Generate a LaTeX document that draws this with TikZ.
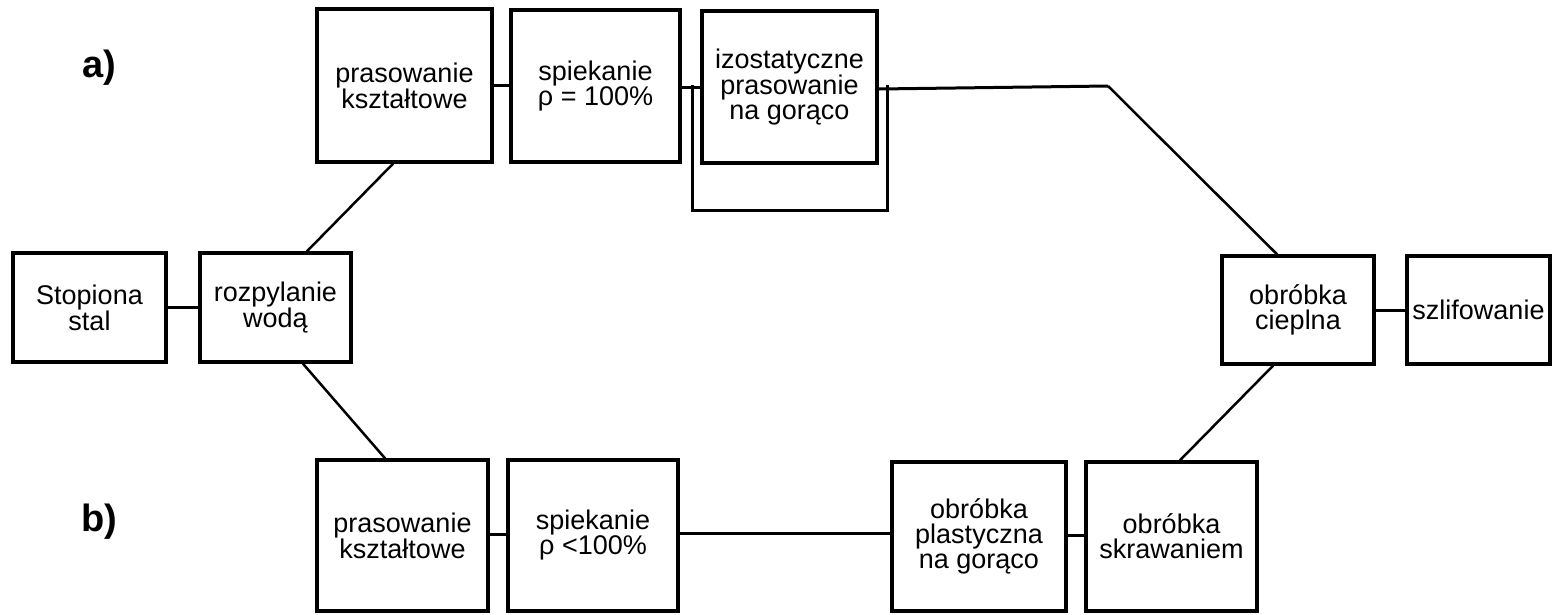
\documentclass[tikz,border=0pt]{standalone}
\usepackage{fontspec}
\setmainfont{Liberation Sans}
\begin{document}
\begin{tikzpicture}[x=1pt,y=-1pt,
  box/.style={draw, line width=3.5pt, inner sep=0pt, align=center,
    font=\fontsize{27}{25}\selectfont},
  conn/.style={line width=3pt},
  diag/.style={line width=2.5pt},
  lbl/.style={font=\fontsize{38}{38}\selectfont\bfseries, inner sep=0pt}]
\useasboundingbox (0,0) rectangle (1561,614);
% labels
\node[lbl] (la) at (99,68) {a)};
\node[lbl] (lb) at (99,522) {b)};
% boxes
\node[box, minimum width=153pt, minimum height=109pt] (stal) at (89.5,307.5) {Stopiona\\stal};
\node[box, minimum width=151pt, minimum height=109pt] (roz) at (275.5,307.5) {rozpylanie\\wodą};
\node[box, minimum width=175pt, minimum height=153pt] (pa) at (404.5,85.5) {prasowanie\\kształtowe};
\node[box, minimum width=169pt, minimum height=152pt] (sa) at (595.5,86) {spiekanie\\ρ = 100\%};
\node[box, minimum width=175pt, minimum height=152pt] (iz) at (789.5,87) {izostatyczne\\prasowanie\\na gorąco};
\node[box, minimum width=152pt, minimum height=108pt] (cie) at (1298,310) {obróbka\\cieplna};
\node[box, minimum width=143pt, minimum height=108pt] (szl) at (1478.5,310) {szlifowanie};
\node[box, minimum width=171pt, minimum height=151pt] (pb) at (402.5,535.5) {prasowanie\\kształtowe};
\node[box, minimum width=170pt, minimum height=151pt] (sb) at (593,535.5) {spiekanie\\ρ <100\%};
\node[box, minimum width=174pt, minimum height=149pt] (pl) at (979,536.5) {obróbka\\plastyczna\\na gorąco};
\node[box, minimum width=171pt, minimum height=149pt] (skr) at (1171.5,536.5) {obróbka\\skrawaniem};
% coordinates
\coordinate (bendT) at (1108,86);
\coordinate (byL) at (692,85);
\coordinate (byLB) at (692,210);
\coordinate (byRB) at (887,210);
\coordinate (byR) at (887,85);
% connectors
\draw[conn] (stal.east) -- (roz.west);
\draw[diag] ([xshift=31.5pt]roz.north) -- ([xshift=-11.5pt]pa.south);
\draw[conn] (pa.east) -- (pa.east -| sa.west);
\draw[conn] ([yshift=-1pt]sa.east) -- ([yshift=-1pt]sa.east -| iz.west);
\draw[conn] (byL) -- (byLB) -- (byRB) -- (byR);
\draw[conn] ([yshift=-2pt]iz.east) -- (bendT);
\draw[diag] (bendT) -- ([xshift=-21pt]cie.north);
\draw[conn] (cie.east) -- (szl.west);
\draw[diag] ([xshift=27.5pt]roz.south) -- ([xshift=-17.5pt]pb.north);
\draw[conn] ([yshift=1.5pt]pb.east) -- ([yshift=1.5pt]pb.east -| sb.west);
\draw[conn] ([yshift=2pt]sb.east) -- ([yshift=2pt]sb.east -| pl.west);
\draw[conn] ([yshift=1pt]pl.east) -- ([yshift=1pt]pl.east -| skr.west);
\draw[diag] ([xshift=8.5pt]skr.north) -- ([xshift=-25pt]cie.south);
\end{tikzpicture}
\end{document}
